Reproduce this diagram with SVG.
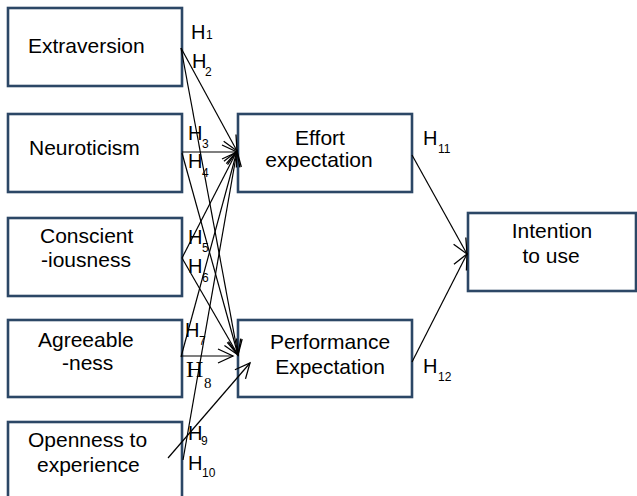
<svg xmlns="http://www.w3.org/2000/svg" width="637" height="496" viewBox="0 0 637 496">
<defs>
<marker id="arr" viewBox="-16 -8 18 16" markerWidth="18" markerHeight="16" refX="0" refY="0" orient="auto" markerUnits="userSpaceOnUse">
<path d="M-15,-7 L0,0 L-15,7" fill="none" stroke="#000" stroke-width="1.3"/>
</marker>
</defs>
<style>
.box{fill:#fff;stroke:#2c4766;stroke-width:2.6}
.t{font-family:"Liberation Sans",Arial,sans-serif;font-size:21px;fill:#000}
.h{font-family:"Liberation Sans",Arial,sans-serif;font-size:20px;fill:#000}
.s{font-family:"Liberation Sans",Arial,sans-serif;font-size:12px;fill:#000}
.hs{font-family:"Liberation Serif","Times New Roman",serif;font-size:24px;fill:#000}
.ss{font-family:"Liberation Serif","Times New Roman",serif;font-size:15px;fill:#000}
.c{fill:none;stroke:#000;stroke-width:1.2}
</style>
<rect width="637" height="496" fill="#fff"/>
<g id="extraversion"><rect class="box" x="8" y="8" width="174" height="78"/><text class="t" x="28" y="53">Extraversion</text></g>
<g id="neuroticism"><rect class="box" x="8" y="114" width="174" height="78"/><text class="t" x="29" y="155">Neuroticism</text></g>
<g id="conscientiousness"><rect class="box" x="8" y="218" width="174" height="78"/><text class="t" x="40" y="243">Conscient</text><text class="t" x="41" y="267">-iousness</text></g>
<g id="agreeableness"><rect class="box" x="8" y="320" width="174" height="77"/><text class="t" x="38" y="347">Agreeable</text><text class="t" x="62" y="370">-ness</text></g>
<g id="openness"><rect class="box" x="8" y="422" width="174" height="80"/><text class="t" x="28" y="447">Openness to</text><text class="t" x="37" y="472">experience</text></g>
<g id="effort"><rect class="box" x="238" y="114" width="174" height="78"/><text class="t" x="320" y="145" text-anchor="middle">Effort</text><text class="t" x="319" y="167" text-anchor="middle">expectation</text></g>
<g id="performance"><rect class="box" x="238" y="320" width="174" height="77"/><text class="t" x="330" y="349" text-anchor="middle">Performance</text><text class="t" x="330" y="374" text-anchor="middle">Expectation</text></g>
<g id="intention"><rect class="box" x="468" y="213" width="168" height="78"/><text class="t" x="552" y="238" text-anchor="middle">Intention</text><text class="t" x="551" y="263" text-anchor="middle">to use</text></g>
<g id="connectors">
<line class="c" x1="181" y1="48" x2="237" y2="151" marker-end="url(#arr)"/>
<line class="c" x1="181" y1="48" x2="238" y2="355" marker-end="url(#arr)"/>
<line class="c" x1="182" y1="152" x2="237" y2="152" marker-end="url(#arr)"/>
<line class="c" x1="182" y1="153" x2="238" y2="355" marker-end="url(#arr)"/>
<line class="c" x1="182" y1="258" x2="237" y2="151" marker-end="url(#arr)"/>
<line class="c" x1="182" y1="258" x2="238" y2="355" marker-end="url(#arr)"/>
<line class="c" x1="181" y1="357" x2="237" y2="151" marker-end="url(#arr)"/>
<line class="c" x1="181" y1="356" x2="233" y2="356" marker-end="url(#arr)"/>
<line class="c" x1="183" y1="460" x2="237" y2="151" marker-end="url(#arr)"/>
<line class="c" x1="168" y1="458" x2="250" y2="363" marker-end="url(#arr)"/>
<line class="c" x1="412" y1="155" x2="467" y2="254" marker-end="url(#arr)"/>
<line class="c" x1="412" y1="362" x2="467" y2="254" marker-end="url(#arr)"/>
</g>
<g id="labels">
<text class="h" x="191" y="39">H</text><text class="s" x="206" y="39">1</text>
<text class="h" x="192" y="68">H</text><text class="s" x="205" y="76">2</text>
<text class="h" x="188" y="140">H</text><text class="s" x="202" y="148">3</text>
<text class="h" x="188" y="168">H</text><text class="s" x="202" y="177">4</text>
<text class="h" x="188" y="244">H</text><text class="s" x="202" y="252">5</text>
<text class="h" x="188" y="273">H</text><text class="s" x="202" y="282">6</text>
<text class="h" x="185" y="337">H</text><text class="s" x="199" y="345">7</text>
<text class="hs" x="186" y="377">H</text><text class="ss" x="204" y="388">8</text>
<text class="h" x="188" y="440">H</text><text class="s" x="201" y="445">9</text>
<text class="h" x="188" y="470">H</text><text class="s" x="202" y="477">10</text>
<text class="h" x="423" y="145">H</text><text class="s" x="438" y="153">11</text>
<text class="h" x="423" y="373">H</text><text class="s" x="438" y="381">12</text>
</g>
</svg>
